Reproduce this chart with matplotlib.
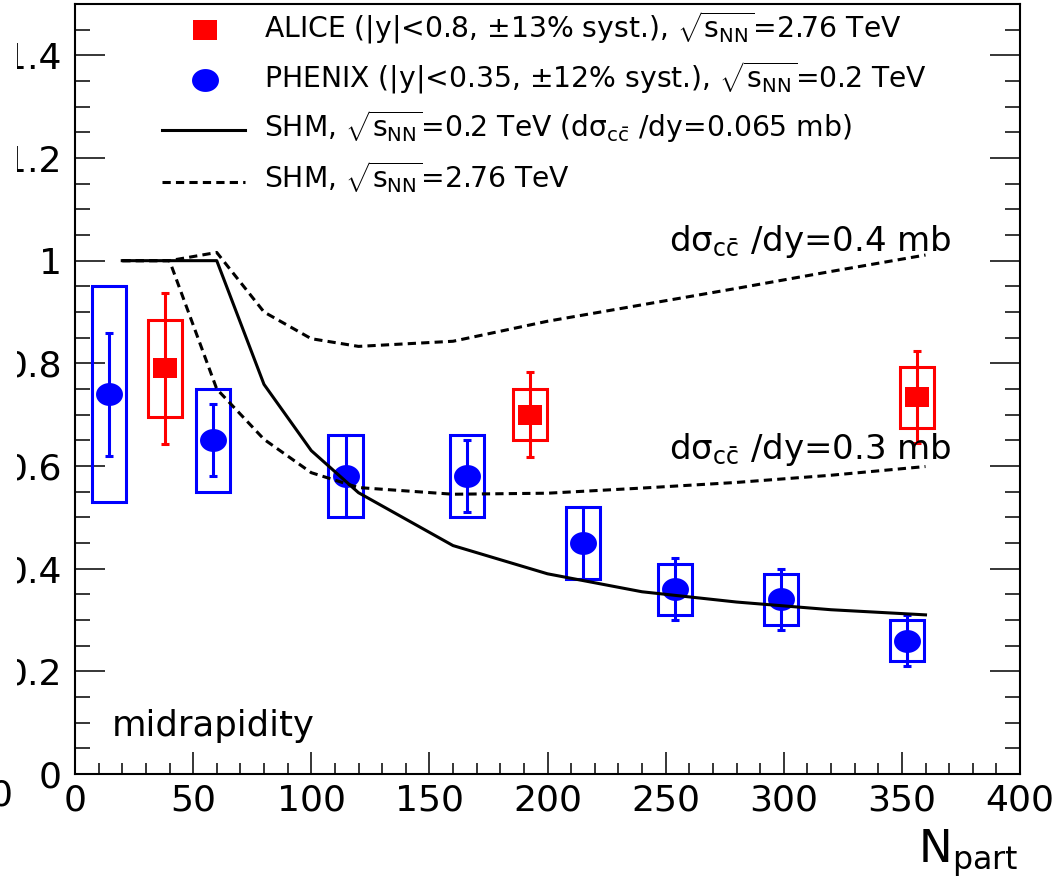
import numpy as np
import matplotlib
matplotlib.use("Agg")
import matplotlib.pyplot as plt
from matplotlib.patches import Rectangle
from matplotlib.ticker import FuncFormatter

plt.rcParams['font.family'] = ['DejaVu Sans']
plt.rcParams['mathtext.fontset'] = 'custom'
plt.rcParams['mathtext.rm'] = 'DejaVu Sans'
plt.rcParams['mathtext.it'] = 'DejaVu Sans'
plt.rcParams['mathtext.sf'] = 'DejaVu Sans'
plt.rcParams['mathtext.bf'] = 'DejaVu Sans:bold'

# ---- data -------------------------------------------------------------
# ALICE, sqrt(sNN)=2.76 TeV
alice_npart = [38.0, 192.5, 356.5]
alice_raa = [0.79, 0.70, 0.734]
alice_stat = [0.147, 0.083, 0.09]
alice_syst = [0.094, 0.05, 0.059]

# PHENIX, sqrt(sNN)=0.2 TeV
phenix_npart = [14.5, 58.5, 114.5, 166.0, 215.0, 254.0, 299.0, 352.0]
phenix_raa = [0.74, 0.65, 0.58, 0.58, 0.45, 0.36, 0.34, 0.26]
phenix_stat = [0.12, 0.07, 0.08, 0.07, 0.07, 0.06, 0.06, 0.05]
phenix_syst = [0.21, 0.10, 0.08, 0.08, 0.07, 0.05, 0.05, 0.04]

# Statistical hadronization model curves
shm_npart = [20, 40, 60, 80, 100, 120, 160, 200, 240, 280, 320, 360]
shm_rhic = [1.0, 1.0, 1.0, 0.759, 0.63, 0.548, 0.445, 0.39, 0.355, 0.335, 0.32, 0.31]
shm_lhc_04mb = [1.0, 1.0, 1.016, 0.90, 0.848, 0.833, 0.843, 0.882, 0.914, 0.946, 0.979, 1.011]
shm_lhc_03mb = [1.0, 1.0, 0.75, 0.652, 0.587, 0.558, 0.545, 0.547, 0.557, 0.568, 0.582, 0.599]

x_ticks = [0, 50, 100, 150, 200, 250, 300, 350, 400]
y_ticks = [0, 0.2, 0.4, 0.6, 0.8, 1.0, 1.2, 1.4]

legend_labels = [
    r'ALICE (|y|<0.8, ±13% syst.), $\sqrt{s_{\rm NN}}$=2.76 TeV',
    r'PHENIX (|y|<0.35, ±12% syst.), $\sqrt{s_{\rm NN}}$=0.2 TeV',
    r'SHM, $\sqrt{s_{\rm NN}}$=0.2 TeV (d$\sigma_{c\bar{c}}$ /dy=0.065 mb)',
    r'SHM, $\sqrt{s_{\rm NN}}$=2.76 TeV',
]

# ---- styling ----------------------------------------------------------
RED = '#ff0000'
BLUE = '#0000ff'
BOX_HALF_WIDTH = 7.2
LW = 2.2
DASH = (0, (2.7, 1.7))

# elliptical / rectangular marker shapes
t = np.linspace(0, 2 * np.pi, 60)
ellipse = np.column_stack([np.cos(t), 0.85 * np.sin(t)])
rect = np.array([[-1, -0.85], [1, -0.85], [1, 0.85], [-1, 0.85], [-1, -0.85]])

W, H = 1058, 882
fig = plt.figure(figsize=(W / 100, H / 100), dpi=100)
ax = fig.add_axes([75 / W, 108 / H, 945 / W, 770 / H])
ax.set_xlim(0, 400)
ax.set_ylim(0, 1.5)

# systematic boxes
for n, v, s in zip(phenix_npart, phenix_raa, phenix_syst):
    ax.add_patch(Rectangle((n - BOX_HALF_WIDTH, v - s), 2 * BOX_HALF_WIDTH, 2 * s,
                           fill=False, edgecolor=BLUE, lw=LW, zorder=2))
for n, v, s in zip(alice_npart, alice_raa, alice_syst):
    ax.add_patch(Rectangle((n - BOX_HALF_WIDTH, v - s), 2 * BOX_HALF_WIDTH, 2 * s,
                           fill=False, edgecolor=RED, lw=LW, zorder=2))

# statistical error bars
ax.errorbar(phenix_npart, phenix_raa, yerr=phenix_stat, fmt='none', ecolor=BLUE,
            elinewidth=LW, capsize=2.9, capthick=LW, zorder=3)
ax.errorbar(alice_npart, alice_raa, yerr=alice_stat, fmt='none', ecolor=RED,
            elinewidth=LW, capsize=2.9, capthick=LW, zorder=3)

# markers
ax.plot(phenix_npart, phenix_raa, ls='none', marker=ellipse, ms=19.4,
        color=BLUE, mew=0, zorder=4)
ax.plot(alice_npart, alice_raa, ls='none', marker=rect, ms=16.6,
        color=RED, mew=0, zorder=4)

# model curves
ax.plot(shm_npart, shm_rhic, color='black', lw=LW, zorder=5)
ax.plot(shm_npart, shm_lhc_04mb, color='black', lw=LW, ls=DASH, zorder=5)
ax.plot(shm_npart, shm_lhc_03mb, color='black', lw=LW, ls=DASH, zorder=5)

# axes, ticks
ax.set_xticks(x_ticks)
ax.set_xticks(np.arange(0, 401, 10), minor=True)
ax.set_yticks(y_ticks)
ax.set_yticks(np.arange(0, 1.501, 0.05), minor=True)
ax.yaxis.set_major_formatter(FuncFormatter(lambda v, p: f'{v:g}'))
ax.tick_params(axis='x', which='major', direction='in', length=15.8, width=1.1,
               labelsize=26, pad=7, top=False)
ax.tick_params(axis='x', which='minor', direction='in', length=7.9, width=1.1, top=False)
ax.tick_params(axis='y', which='major', direction='in', length=21.6, width=1.1,
               labelsize=26, pad=9.4, right=True)
ax.tick_params(axis='y', which='minor', direction='in', length=10.8, width=1.1, right=True)
for sp in ax.spines.values():
    sp.set_linewidth(1.5)

ax.text(0.998, -0.1156, r'N$_{\rm part}$', transform=ax.transAxes,
        ha='right', va='baseline', fontsize=32.5)

# annotations
ax.text(251.4, 1.0185, r'd$\sigma_{c\bar{c}}$ /dy=0.4 mb', fontsize=24.5,
        ha='left', va='baseline', zorder=6)
ax.text(251.4, 0.6127, r'd$\sigma_{c\bar{c}}$ /dy=0.3 mb', fontsize=24.5,
        ha='left', va='baseline', zorder=6)
ax.text(15.7, 0.0741, 'midrapidity', fontsize=25.5, ha='left', va='baseline')

# legend
def ax_x(px):
    return (px - 75) / 945

def ax_y(py):
    return (774 - py) / 770

row_y = [30, 80, 130, 182]
row_base = [37.5, 87, 137, 188]
ax.plot([ax_x(205)], [ax_y(row_y[0])], transform=ax.transAxes, ls='none',
        marker=rect, ms=16.6, color=RED, mew=0, clip_on=False)
ax.plot([ax_x(205)], [ax_y(row_y[1])], transform=ax.transAxes, ls='none',
        marker=ellipse, ms=19.4, color=BLUE, mew=0, clip_on=False)
ax.plot([ax_x(162), ax_x(245)], [ax_y(row_y[2])] * 2, transform=ax.transAxes,
        color='black', lw=LW)
ax.plot([ax_x(162), ax_x(245)], [ax_y(row_y[3])] * 2, transform=ax.transAxes,
        color='black', lw=LW, ls=DASH)
for lab, yb in zip(legend_labels, row_base):
    ax.text(ax_x(264), ax_y(yb), lab, transform=ax.transAxes, fontsize=20.3,
            ha='left', va='baseline')

# the pad ends a little right of the figure edge: mask the strip beyond it
fig.add_artist(Rectangle((0, 0), 17 / W, 1, transform=fig.transFigure,
                         facecolor='white', edgecolor='none', zorder=20))
# tick label of the neighbouring pad at the left edge
fig.text(1.5 / W, 1 - 795 / H, '0', ha='center', va='center', fontsize=26, zorder=21)

fig.savefig('out.png', dpi=100)
